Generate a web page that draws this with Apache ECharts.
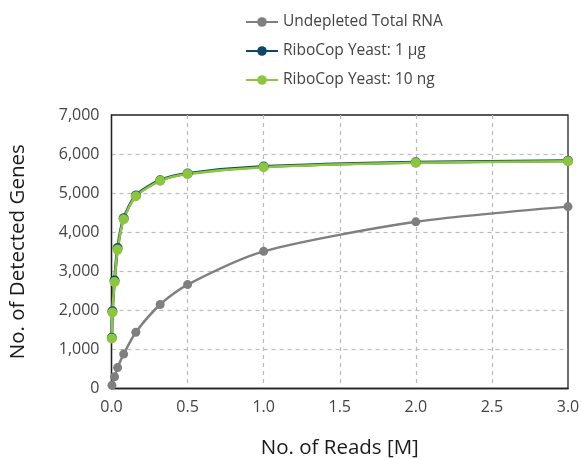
<!DOCTYPE html>
<html><head><meta charset="utf-8">
<script src="https://cdn.jsdelivr.net/npm/echarts@6/dist/echarts.min.js"></script>
<style>html,body{margin:0;padding:0;background:#fff}#c{width:581px;height:459px}</style>
</head><body><div id="c"></div>
<script>
const seriesNames = ['Undepleted Total RNA', 'RiboCop Yeast: 1 µg', 'RiboCop Yeast: 10 ng'];
const readsTotal = [0.003, 0.02, 0.04, 0.08, 0.16, 0.32, 0.5, 1, 2, 3];
const genesTotal = [80, 300, 535, 880, 1440, 2150, 2660, 3510, 4265, 4655];
const readsRibo = [0.002, 0.006, 0.02, 0.04, 0.08, 0.16, 0.32, 0.5, 1, 2, 3];
const genes1ug = [1300, 1975, 2765, 3595, 4355, 4940, 5330, 5505, 5680, 5790, 5830];
const genes10ng = [1280, 1945, 2725, 3555, 4330, 4920, 5315, 5490, 5665, 5775, 5815];
const xTicks = [0, 0.5, 1, 1.5, 2, 2.5, 3];

const pairs = (xs, ys) => xs.map((x, i) => [x, ys[i]]);
const font = 'Open Sans';
const chart = echarts.init(document.getElementById('c'));
chart.setOption({
  animation: false,
  textStyle: { fontFamily: font },
  grid: { left: 111.5, right: 13, top: 115, bottom: 70.5, outerBoundsMode: 'none', containLabel: false,
          show: true, borderColor: '#222', borderWidth: 1.3, backgroundColor: 'transparent' },
  legend: {
    orient: 'vertical', left: 240, top: 8,
    itemWidth: 32, itemHeight: 12, itemGap: 11,
    textStyle: { fontFamily: font, fontSize: 15.5, color: '#444', lineHeight: 18 },
    data: seriesNames
  },
  xAxis: {
    type: 'value', min: xTicks[0], max: xTicks[xTicks.length - 1], interval: 0.5,
    name: 'No. of Reads [M]', nameLocation: 'middle', nameGap: 49,
    nameTextStyle: { fontFamily: font, fontSize: 20.5, color: '#1a1a1a' },
    axisLine: { show: true, lineStyle: { color: '#222', width: 1.3 } },
    axisTick: { show: false },
    axisLabel: { fontFamily: font, fontSize: 16, color: '#444', margin: 11, formatter: v => v.toFixed(1) },
    splitLine: { show: true, showMinLine: false, showMaxLine: false, lineStyle: { color: '#bbb', type: [4, 4], width: 1.2 } }
  },
  yAxis: {
    type: 'value', min: 0, max: 7000, interval: 1000,
    name: 'No. of Detected Genes', nameLocation: 'middle', nameGap: 83,
    nameTextStyle: { fontFamily: font, fontSize: 20.5, color: '#1a1a1a' },
    axisLine: { show: true, lineStyle: { color: '#222', width: 1.3 } },
    axisTick: { show: false },
    axisLabel: { fontFamily: font, fontSize: 16, color: '#444', margin: 12, formatter: v => v.toLocaleString('en-US') },
    splitLine: { show: true, showMinLine: false, showMaxLine: false, lineStyle: { color: '#bbb', type: [4, 4], width: 1.2 } }
  },
  series: [
    { name: seriesNames[0], type: 'line', data: pairs(readsTotal, genesTotal), smooth: 0.25,
      symbol: 'circle', symbolSize: 9, itemStyle: { color: '#7f7f7f' }, lineStyle: { color: '#7f7f7f', width: 2.5 } },
    { name: seriesNames[1], type: 'line', data: pairs(readsRibo, genes1ug), smooth: 0.25,
      symbol: 'circle', symbolSize: 10, itemStyle: { color: '#0e4866' }, lineStyle: { color: '#0e4866', width: 3 } },
    { name: seriesNames[2], type: 'line', data: pairs(readsRibo, genes10ng), smooth: 0.25,
      symbol: 'circle', symbolSize: 10, itemStyle: { color: '#8cc63f' }, lineStyle: { color: '#8cc63f', width: 2.5 } }
  ]
});
</script></body></html>
